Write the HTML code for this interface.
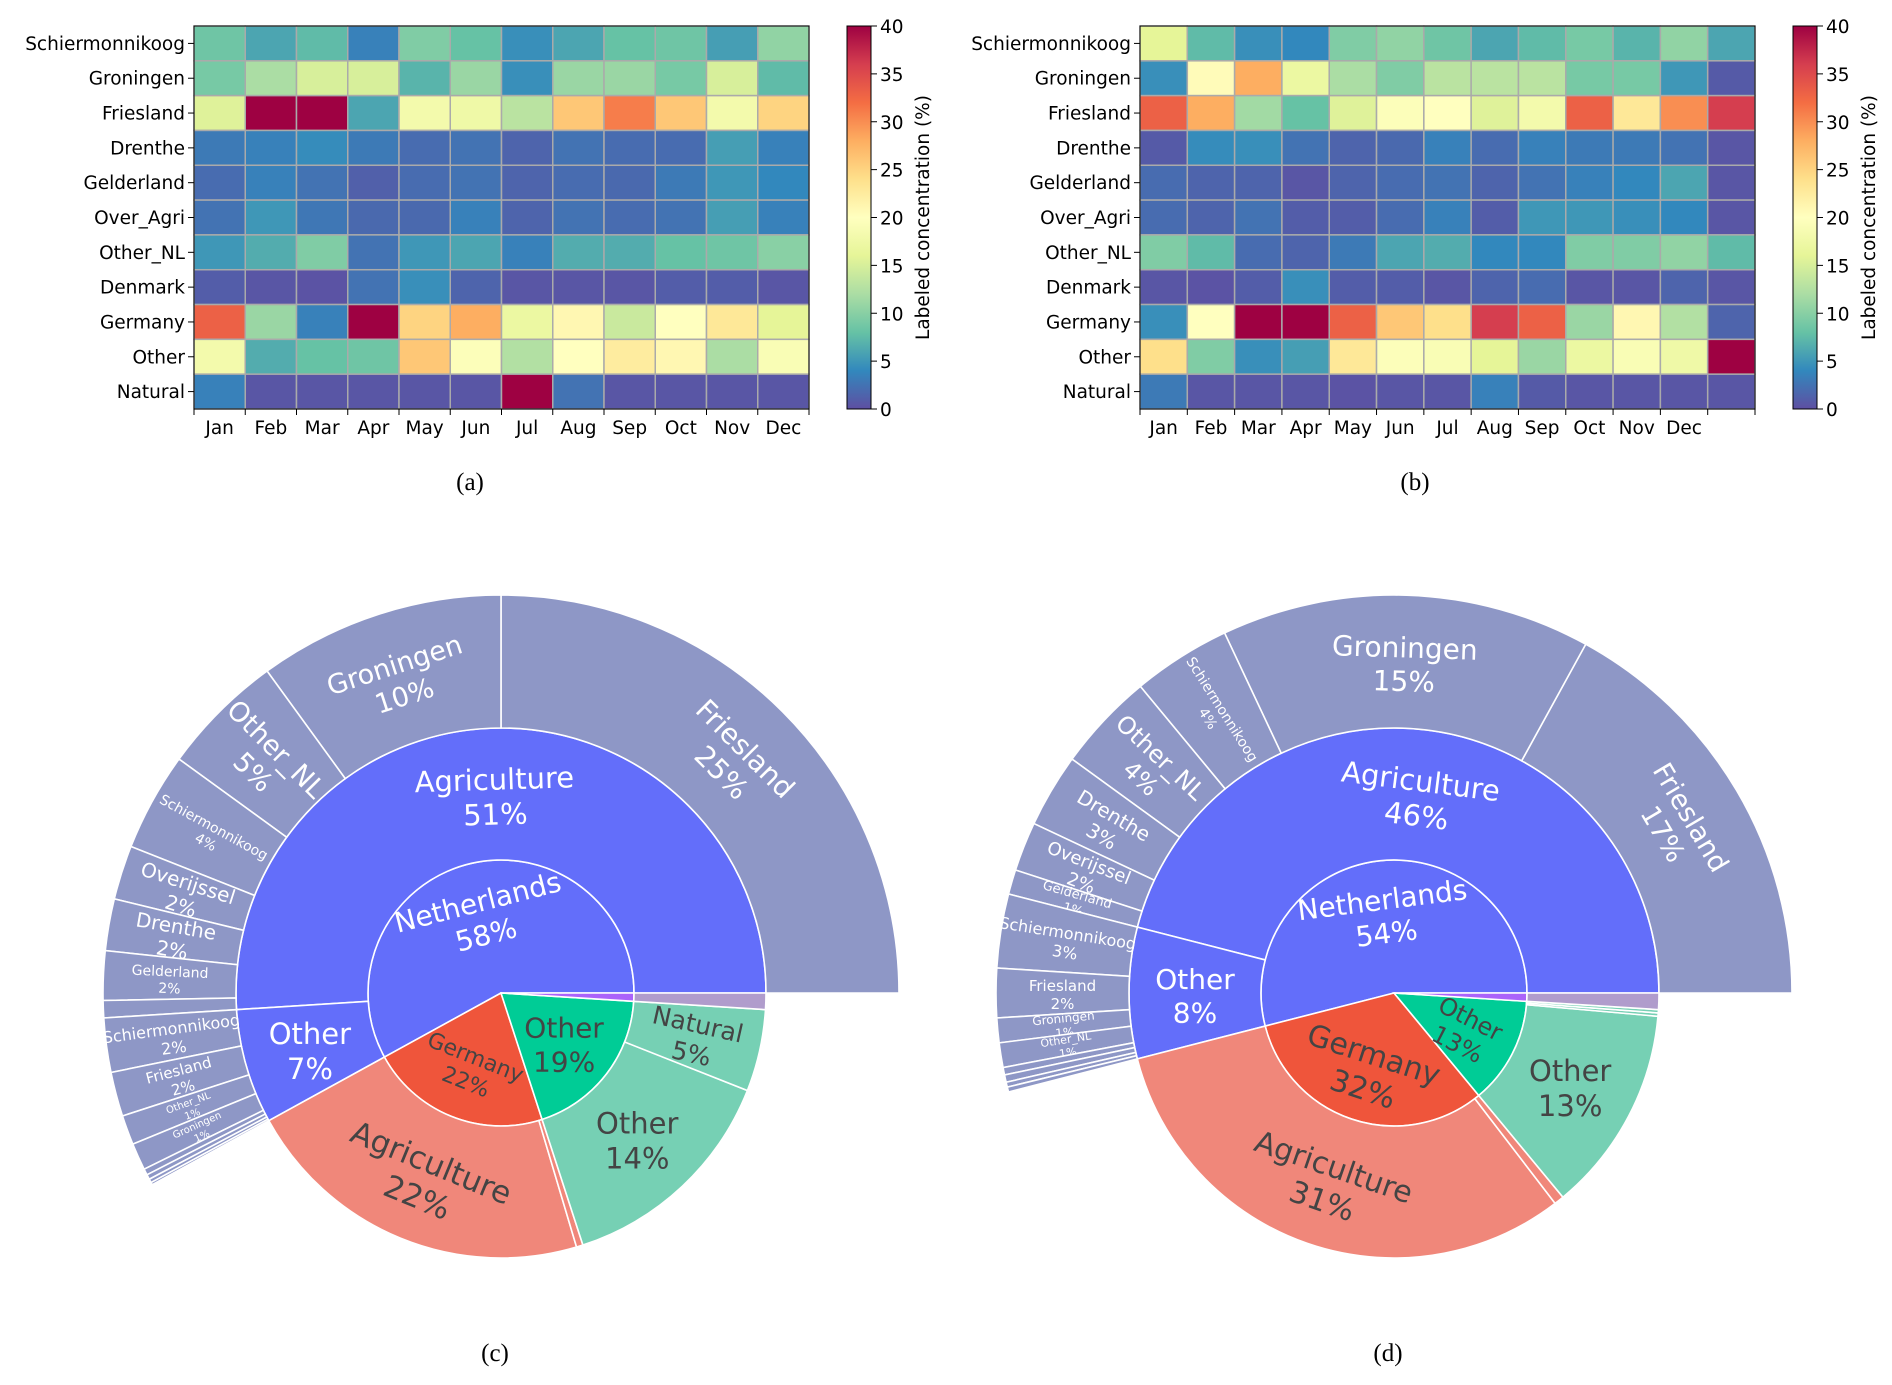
<!DOCTYPE html>
<html><head><meta charset="utf-8"><style>
html,body{margin:0;padding:0;background:#fff;}
svg{display:block;}
</style></head><body>
<svg id="fig" xmlns="http://www.w3.org/2000/svg" width="1892" height="1385" viewBox="0 0 1892 1385" font-family="'DejaVu Sans','Liberation Sans',sans-serif">
<defs>
<linearGradient id="cbgrad" x1="0" y1="1" x2="0" y2="0">
<stop offset="0" stop-color="#5e4fa2"/><stop offset="0.1" stop-color="#3288bd"/><stop offset="0.2" stop-color="#66c2a5"/><stop offset="0.3" stop-color="#abdda4"/><stop offset="0.4" stop-color="#e6f598"/><stop offset="0.5" stop-color="#ffffbf"/><stop offset="0.6" stop-color="#fee08b"/><stop offset="0.7" stop-color="#fdae61"/><stop offset="0.8" stop-color="#f46d43"/><stop offset="0.9" stop-color="#d53e4f"/><stop offset="1" stop-color="#9e0142"/>
</linearGradient>
</defs>
<g id="heatA"></g>
<g id="heatB"></g>
<g id="sunC"></g>
<g id="sunD"></g>
<text x="470" y="490" font-family="'Liberation Serif',serif" font-size="25" text-anchor="middle">(a)</text>
<text x="1415" y="490" font-family="'Liberation Serif',serif" font-size="25" text-anchor="middle">(b)</text>
<text x="495" y="1361" font-family="'Liberation Serif',serif" font-size="25" text-anchor="middle">(c)</text>
<text x="1388" y="1361" font-family="'Liberation Serif',serif" font-size="25" text-anchor="middle">(d)</text>
</svg>
<script>
const rowLabels = ["Schiermonnikoog","Groningen","Friesland","Drenthe","Gelderland","Over_Agri","Other_NL","Denmark","Germany","Other","Natural"];
const monthsA = ["Jan","Feb","Mar","Apr","May","Jun","Jul","Aug","Sep","Oct","Nov","Dec"];
const monthsB = ["Jan","Feb","Mar","Apr","May","Jun","Jul","Aug","Sep","Oct","Nov","Dec",""];
const cbTicks = [0,5,10,15,20,25,30,35,40];
const valuesA = [
[8.5,6,7.5,3.5,9.5,8,4.5,6,8,8.5,5.5,10.5],
[9,12,15,15,7,11,4.5,11,11,9,15,7.5],
[15.5,40,40,6,18,17.5,13,26,31,26,18,25],
[3,3.5,4.3,3,2,2.5,1.5,2.5,2,2,5.5,3.5],
[2,3.5,2.5,1.2,2,2.5,1.5,2,1.8,3,5,4],
[2.5,5,2.8,1.8,1.8,3.5,1.5,2.5,2,2.5,5.5,3.5],
[5,6.5,9.5,2.5,5,6,3.5,6.5,6.5,8,8.5,10],
[1,0.5,0.3,2.5,4.5,1.5,0.5,0.5,0.5,1,1,0.5],
[33,11,3.5,40,25,28,17,21,14,20,23,16],
[18,6.5,8,8.5,26,19.5,12.5,20,22.5,21,12,19],
[3.5,0.5,0.5,0.5,0.5,0.5,40,2.5,0.5,0.5,0.5,0.5]];
const valuesB = [
[16,7.5,4.5,4,9.5,10.5,8.5,6,7.5,9,7,10.5,6],
[4.5,20.5,28,17,12,9.5,13,13,13,9,9,5,0.8],
[33,28,11.5,8,15.5,19.5,20,15.5,18,33,23,30,36],
[0.8,4.3,4.5,2.5,1.5,1.8,3.5,2,3.5,3,3,2.5,0.5],
[2,1.5,1.5,0.5,1.5,2,2.5,1.5,2.5,3.5,4,6,0.5],
[2,1.5,2.5,1,1,2,3.5,1,5,5,4.5,4,0.5],
[9.5,7.5,2,1.5,3,6,6.5,4,4,9.5,9.5,10.5,7.5],
[0.5,0.3,1,4.5,1,1,0.5,1.5,2,0.5,0.5,1.5,0.5],
[4.5,20,40,40,33,26,24,36,33,11,21,12.5,1.5],
[24,9.5,4.5,5.5,23,19.5,19,16,11,17,19,17.5,40],
[3,0.5,0.5,0.5,0.3,0.5,0.5,3.5,0.8,0.5,0.5,0.5,0.5]];

// Sunburst (c)
const cRing0Labels = ["Netherlands","Germany","Other",""];
const cRing0Values = [58,22,19,1];
const cRing1Labels = ["Agriculture","Other","Agriculture","","Other","Natural","Agriculture"];
const cRing1Values = [51,7,21.6,0.4,14,5,1];
const cRing1Parents = [0,0,1,1,2,2,3];
const cRing2Labels = ["Friesland","Groningen","Other_NL","Schiermonnikoog","Overijssel","Drenthe","Gelderland","","Schiermonnikoog","Friesland","Other_NL","Groningen","","","",""];
const cRing2Values = [25,10,5,4,2.2,2.1,2,0.7,2.2,1.8,1.2,1.1,0.25,0.2,0.15,0.1];
const cRing2Parents = [0,0,0,0,0,0,0,0,1,1,1,1,1,1,1,1];
// Sunburst (d)
const dRing0Labels = ["Netherlands","Germany","Other",""];
const dRing0Values = [54,32,13,1];
const dRing1Labels = ["Agriculture","Other","Agriculture","","Other","","","Agriculture"];
const dRing1Values = [46,8,31.4,0.6,12.6,0.2,0.2,1];
const dRing1Parents = [0,0,1,1,2,2,2,3];
const dRing2Labels = ["Friesland","Groningen","Schiermonnikoog","Other_NL","Drenthe","Overijssel","Gelderland","Schiermonnikoog","Friesland","Groningen","Other_NL","","","",""];
const dRing2Values = [17,15,4,4,3,2,1,3,2,1,1,0.3,0.3,0.2,0.2];
const dRing2Parents = [0,0,0,0,0,0,0,1,1,1,1,1,1,1,1];

const NS = "http://www.w3.org/2000/svg";
function mk(tag, attrs, parent){const e=document.createElementNS(NS,tag);for(const k in attrs)e.setAttribute(k,attrs[k]);parent.appendChild(e);return e;}
const stops=[[0,[94,79,162]],[4,[50,136,189]],[8,[102,194,165]],[12,[171,221,164]],[16,[230,245,152]],[20,[255,255,191]],[24,[254,224,139]],[28,[253,174,97]],[32,[244,109,67]],[36,[213,62,79]],[40,[158,1,66]]];
function cmap(v){v=Math.max(0,Math.min(40,v));for(let i=0;i<stops.length-1;i++){const a=stops[i],b=stops[i+1];if(v<=b[0]){const t=(v-a[0])/(b[0]-a[0]);const c=a[1].map((x,j)=>Math.round(x+(b[1][j]-x)*t));return `rgb(${c[0]},${c[1]},${c[2]})`;}}return "rgb(158,1,66)";}

function heatmap(g, vals, cols, x0, x1, y0, y1, cbx){
  const nr=rowLabels.length, nc=cols.length;
  const xs=v=>x0+(x1-x0)*v/nc, ys=v=>y0+(y1-y0)*v/nr;
  const cw=(x1-x0)/nc, ch=(y1-y0)/nr;
  for(let r=0;r<nr;r++){for(let c=0;c<nc;c++){
    const rect=mk("rect",{x:xs(c),y:ys(r),width:cw,height:ch,fill:cmap(vals[r][c]),stroke:"#aaaaaa","stroke-width":1.5},g);
    
    
  }}
  const fr=mk("rect",{x:x0,y:y0,width:x1-x0,height:y1-y0,fill:"none",stroke:"#000","stroke-width":1},g);
  
  
  for(let r=0;r<nr;r++){
    const yc=ys(r+0.5);
    mk("line",{x1:x0-6,x2:x0,y1:yc,y2:yc,stroke:"#000","stroke-width":1},g);
    const t=mk("text",{x:x0-9,y:yc+6.5,"text-anchor":"end","font-size":18.5,fill:"#000"},g);
    t.textContent=rowLabels[r];
    
    
  }
  for(let c=0;c<=nc;c++){
    const xc=xs(c);
    mk("line",{x1:xc,x2:xc,y1:y1,y2:y1+6,stroke:"#000","stroke-width":1},g);
    if(c<nc){
      const t=mk("text",{x:xs(c+0.5),y:y1+25,"text-anchor":"middle","font-size":18.5,fill:"#000"},g);
      t.textContent=cols[c];
      
      
    }
  }
  const cb=mk("rect",{x:cbx,y:y0,width:24,height:y1-y0,fill:"url(#cbgrad)",stroke:"#000","stroke-width":1},g);
  
  
  const cy=v=>y1-(y1-y0)*v/40;
  cbTicks.forEach(v=>{
    mk("line",{x1:cbx+24,x2:cbx+30,y1:cy(v),y2:cy(v),stroke:"#000","stroke-width":1},g);
    const t=mk("text",{x:cbx+33,y:cy(v)+7,"font-size":18.5,fill:"#000"},g);
    t.textContent=v;
    
    
  });
  const lb=mk("text",{x:0,y:0,"text-anchor":"middle","font-size":18.5,fill:"#000",transform:`translate(${cbx+82},${(y0+y1)/2}) rotate(-90)`},g);
  lb.textContent="Labeled concentration (%)";
  
  
}
heatmap(document.getElementById("heatA"), valuesA, monthsA, 194, 809, 26, 409, 847);
heatmap(document.getElementById("heatB"), valuesB, monthsB, 1140, 1755, 26, 409, 1793);

function arcPath(cx,cy,r0,r1,a0,a1){
  const rad=a=>a*Math.PI/180;
  const p=(r,a)=>[cx+r*Math.cos(rad(a)), cy-r*Math.sin(rad(a))];
  const large=(a1-a0)>180?1:0;
  const A=p(r1,a0),B=p(r1,a1);
  if(r0<=0){return `M${cx},${cy}L${A[0]},${A[1]}A${r1},${r1} 0 ${large} 0 ${B[0]},${B[1]}Z`;}
  const C=p(r0,a1),D=p(r0,a0);
  return `M${A[0]},${A[1]}A${r1},${r1} 0 ${large} 0 ${B[0]},${B[1]}L${C[0]},${C[1]}A${r0},${r0} 0 ${large} 1 ${D[0]},${D[1]}Z`;
}
function sunburst(g, cx, cy, rings, style){
  const R=[0,133,265,398];
  const nodeAngles=[];
  rings.forEach((ring,d)=>{
    const angs=[];
    const cursor={};
    ring.values.forEach((v,i)=>{
      const par = d===0?0:ring.parents[i];
      let start;
      if(d===0){start = i===0?0:angs[i-1][1];}
      else{start = cursor[par]!==undefined?cursor[par]:nodeAngles[d-1][par][0];}
      const end=start+v*3.6;
      cursor[par]=end;
      angs.push([start,end]);
    });
    nodeAngles.push(angs);
  });
  rings.forEach((ring,d)=>{
    ring.values.forEach((v,i)=>{
      const [a0,a1]=nodeAngles[d][i];
      const col=style.colors[d][i];
      const path=mk("path",{d:arcPath(cx,cy,R[d],R[d+1],a0,a1),fill:col,stroke:"#fff","stroke-width":1.6},g);
      
      
      const fs=style.fonts[d][i];
      if(!ring.labels[i]||!fs)return;
      const mid=(a0+a1)/2;
      const rm = d===0? R[1]*0.6 : (R[d]+R[d+1])/2;
      const x=cx+rm*Math.cos(mid*Math.PI/180), y=cy-rm*Math.sin(mid*Math.PI/180);
      const o=style.orient[d][i];
      let rot = o==='t'?90-mid : o==='r'? -mid : 0;
      while(rot>90)rot-=180; while(rot<=-90)rot+=180;
      const tc = style.textColor[d][i];
      const t=mk("text",{"text-anchor":"middle","font-size":fs,fill:tc,transform:`translate(${x},${y}) rotate(${rot})`},g);
      const s1=mk("tspan",{x:0,dy:-0.15*fs},t); s1.textContent=ring.labels[i];
      const s2=mk("tspan",{x:0,dy:1.2*fs},t); s2.textContent=Math.round(v)+"%";
      
      
    });
  });
}
const NLc="#636efa",DEc="#ef553b",OTc="#00cc96",TYc="#ab63fa",AG="#f0877a",OG="#76d0b4",P2="#8e97c6",LP="#b09ccc";
sunburst(document.getElementById("sunC"),501,993,[
 {labels:cRing0Labels,values:cRing0Values},
 {labels:cRing1Labels,values:cRing1Values,parents:cRing1Parents},
 {labels:cRing2Labels,values:cRing2Values,parents:cRing2Parents}],
 {colors:[[NLc,DEc,OTc,TYc],[NLc,NLc,AG,AG,OG,OG,LP],cRing2Values.map(()=>P2)],
  fonts:[[28,22,28,0],[29,29,31,0,29,25,0],[28,27,27,14,20,20,14,0,16,15,10,10,0,0,0,0]],
  orient:[['t','t','h','h'],['t','h','t','h','h','r','r'],['t','t','r','r','r','r','r','r','r','r','r','r','r','r','r','r']],
  textColor:[["#fff","#444","#444","#444"],["#fff","#fff","#444","#444","#444","#444","#444"],cRing2Values.map(()=>"#fff")]});
sunburst(document.getElementById("sunD"),1394,993,[
 {labels:dRing0Labels,values:dRing0Values},
 {labels:dRing1Labels,values:dRing1Values,parents:dRing1Parents},
 {labels:dRing2Labels,values:dRing2Values,parents:dRing2Parents}],
 {colors:[[NLc,DEc,OTc,TYc],[NLc,NLc,AG,AG,OG,OG,OG,LP],dRing2Values.map(()=>P2)],
  fonts:[[28,30,24,0],[29,28,30,0,29,0,0,0],[27,28,14,24,20,18,13,16,15,12,11,0,0,0,0]],
  orient:[['t','t','r','h'],['t','h','t','h','h','r','r','r'],['t','t','r','r','r','r','r','r','r','r','r','r','r','r','r']],
  textColor:[["#fff","#444","#444","#444"],["#fff","#fff","#444","#444","#444","#444","#444","#444"],dRing2Values.map(()=>"#fff")]});
</script>
</body></html>
